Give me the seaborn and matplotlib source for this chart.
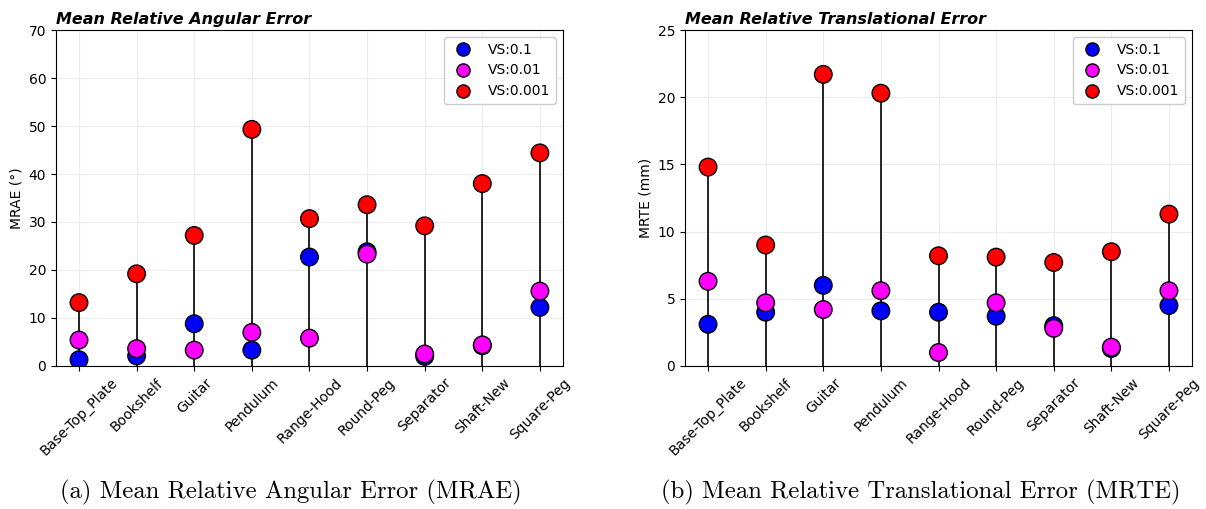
import pandas as pd
import matplotlib
matplotlib.use("Agg")
import matplotlib.pyplot as plt
import seaborn as sns

objects = ["Base-Top_Plate", "Bookshelf", "Guitar", "Pendulum", "Range-Hood",
           "Round-Peg", "Separator", "Shaft-New", "Square-Peg"]
vs_labels = ["VS:0.1", "VS:0.01", "VS:0.001"]
colors = ["blue", "magenta", "red"]

# angular error (deg)
mrae_01 = [1.3, 2.1, 8.8, 3.3, 22.7, 23.8, 2.0, 4.2, 12.2]
mrae_001 = [5.4, 3.6, 3.3, 7.0, 5.8, 23.3, 2.5, 4.4, 15.6]
mrae_0001 = [13.2, 19.2, 27.2, 49.3, 30.7, 33.6, 29.2, 38.0, 44.4]

# translational error (mm)
mrte_01 = [3.1, 4.0, 6.0, 4.1, 4.0, 3.7, 3.0, 1.3, 4.5]
mrte_001 = [6.3, 4.7, 4.2, 5.6, 1.0, 4.7, 2.8, 1.4, 5.6]
mrte_0001 = [14.8, 9.0, 21.7, 20.3, 8.2, 8.1, 7.7, 8.5, 11.3]


def make_df(a, b, c):
    rows = []
    for lab, vals in zip(vs_labels, [a, b, c]):
        for o, v in zip(objects, vals):
            rows.append({"obj": o, "vs": lab, "val": v})
    return pd.DataFrame(rows)


def lollipop(ax, df, title, ylabel, ymax, yticks):
    ax.grid(True, color="#ececec", linewidth=0.8, zorder=0)
    ax.set_axisbelow(True)
    xpos = {o: i for i, o in enumerate(objects)}
    top = df.groupby("obj", sort=False)["val"].max()
    ax.vlines([xpos[o] for o in top.index], 0, top.values, color="black",
              linewidth=1.2, zorder=2)
    df = df.assign(x=df["obj"].map(xpos))
    sns.scatterplot(data=df, x="x", y="val", hue="vs", hue_order=vs_labels,
                    palette=colors, s=160, edgecolor="black", linewidth=1,
                    ax=ax, zorder=3)
    ax.set_xlim(-0.4, 8.4)
    ax.set_ylim(0, ymax)
    ax.set_yticks(yticks)
    ax.set_xticks(range(len(objects)))
    ax.set_xticklabels(objects, rotation=45, fontsize=10)
    ax.tick_params(axis="y", labelsize=10)
    ax.set_xlabel("")
    ax.set_ylabel(ylabel, fontsize=10)
    ax.set_title(title, loc="left", fontsize=11.5, fontweight="bold",
                 fontstyle="italic", pad=4)
    h, l = ax.get_legend_handles_labels()
    ax.legend(h, l, loc="upper right", fontsize=10, framealpha=1,
              markerscale=0.75)


fig = plt.figure(figsize=(12.06, 5.09), dpi=100)
ax1 = fig.add_axes([0.0464, 0.281, 0.4204, 0.66])
ax2 = fig.add_axes([0.568, 0.281, 0.4204, 0.66])

lollipop(ax1, make_df(mrae_01, mrae_001, mrae_0001),
         "Mean Relative Angular Error", "MRAE (°)", 70, range(0, 71, 10))
lollipop(ax2, make_df(mrte_01, mrte_001, mrte_0001),
         "Mean Relative Translational Error", "MRTE (mm)", 25, range(0, 26, 5))

fig.text(0.2415, 0.02, "(a) Mean Relative Angular Error (MRAE)", ha="center",
         fontsize=17.8, family="cmr10")
fig.text(0.7635, 0.02, "(b) Mean Relative Translational Error (MRTE)", ha="center",
         fontsize=17.8, family="cmr10")

fig.savefig("out.png", dpi=100)
